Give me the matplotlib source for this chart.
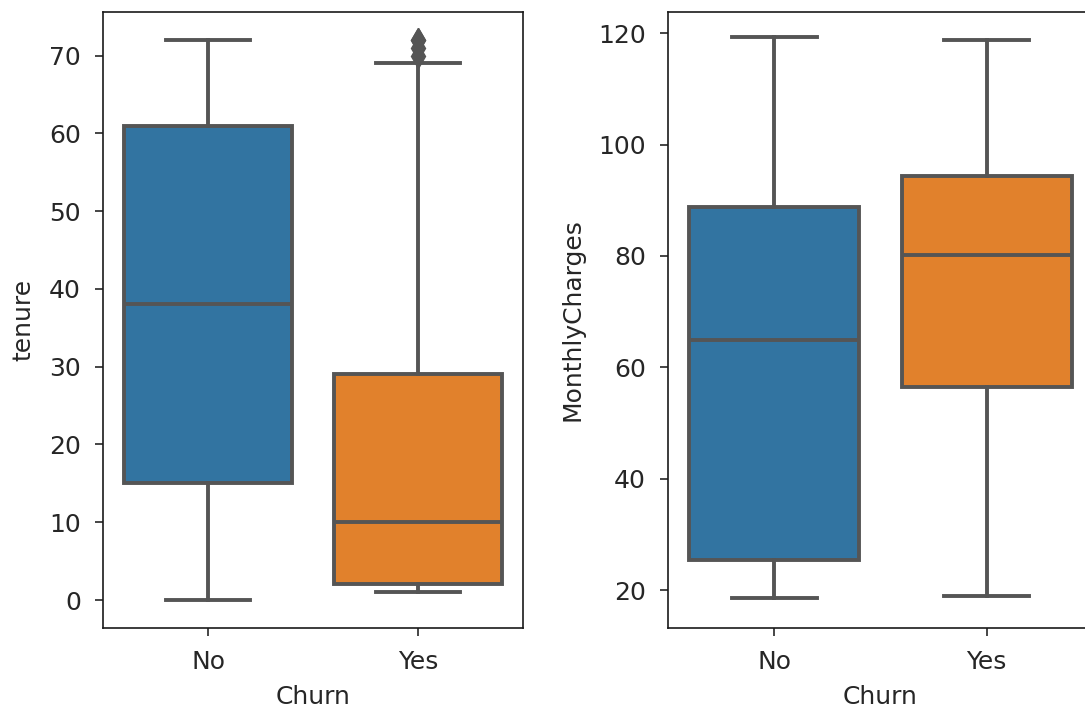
import matplotlib
matplotlib.use("Agg")
import matplotlib.pyplot as plt

churn = ["No", "Yes"]
box_colors = ["#3274a1", "#e1812c"]

# tenure summary: low whisker, q1, median, q3, high whisker
tenure_whislo = [0, 1]
tenure_q1 = [15, 2]
tenure_med = [38, 10]
tenure_q3 = [61, 29]
tenure_whishi = [72, 69]
tenure_fliers = [[], [70, 71, 72, 72]]

# MonthlyCharges summary
mc_whislo = [18.5, 19.0]
mc_q1 = [25.4, 56.5]
mc_med = [64.9, 80.1]
mc_q3 = [88.8, 94.4]
mc_whishi = [119.3, 118.7]
mc_fliers = [[], []]

plt.rcParams["font.size"] = 18
plt.rcParams["text.color"] = "#262626"
plt.rcParams["axes.labelcolor"] = "#262626"
plt.rcParams["xtick.color"] = "#262626"
plt.rcParams["ytick.color"] = "#262626"

gray = "#555555"
lw = 2.8


def make_stats(lo, q1, med, q3, hi, fl):
    stats = []
    for i in range(len(churn)):
        stats.append({"whislo": lo[i], "q1": q1[i], "med": med[i],
                      "q3": q3[i], "whishi": hi[i], "fliers": fl[i]})
    return stats


def draw(ax, stats, ylabel):
    bp = ax.bxp(stats, positions=range(len(churn)), widths=0.8,
                patch_artist=True, showfliers=True,
                boxprops=dict(edgecolor=gray, linewidth=lw),
                whiskerprops=dict(color=gray, linewidth=lw),
                capprops=dict(color=gray, linewidth=lw),
                medianprops=dict(color=gray, linewidth=lw),
                flierprops=dict(marker="d", markerfacecolor=gray,
                                markeredgecolor=gray, markersize=12))
    for patch, c in zip(bp["boxes"], box_colors):
        patch.set_facecolor(c)
    ax.set_xlim(-0.5, 1.5)
    ax.set_xticks(range(len(churn)))
    ax.set_xticklabels(churn)
    ax.set_xlabel("Churn", labelpad=8)
    ax.set_ylabel(ylabel, labelpad=10)
    for s in ax.spines.values():
        s.set_linewidth(1.2)
        s.set_color("#1a1a1a")
    ax.tick_params(length=6, width=1.2, pad=10)


fig = plt.figure(figsize=(10.85, 7.11), dpi=100)
ax1 = fig.add_axes([103 / 1085, 1 - 628 / 711, 420 / 1085, 616 / 711])
ax2 = fig.add_axes([668 / 1085, 1 - 628 / 711, 425 / 1085, 616 / 711])

draw(ax1, make_stats(tenure_whislo, tenure_q1, tenure_med, tenure_q3,
                     tenure_whishi, tenure_fliers), "tenure")
draw(ax2, make_stats(mc_whislo, mc_q1, mc_med, mc_q3, mc_whishi,
                     mc_fliers), "MonthlyCharges")
ax1.set_yticks([0, 10, 20, 30, 40, 50, 60, 70])
ax2.set_yticks([20, 40, 60, 80, 100, 120])
ax1.set_ylim(-3.6, 75.6)
ax2.set_ylim(13.2, 123.8)

fig.savefig("out.png", dpi=100)
